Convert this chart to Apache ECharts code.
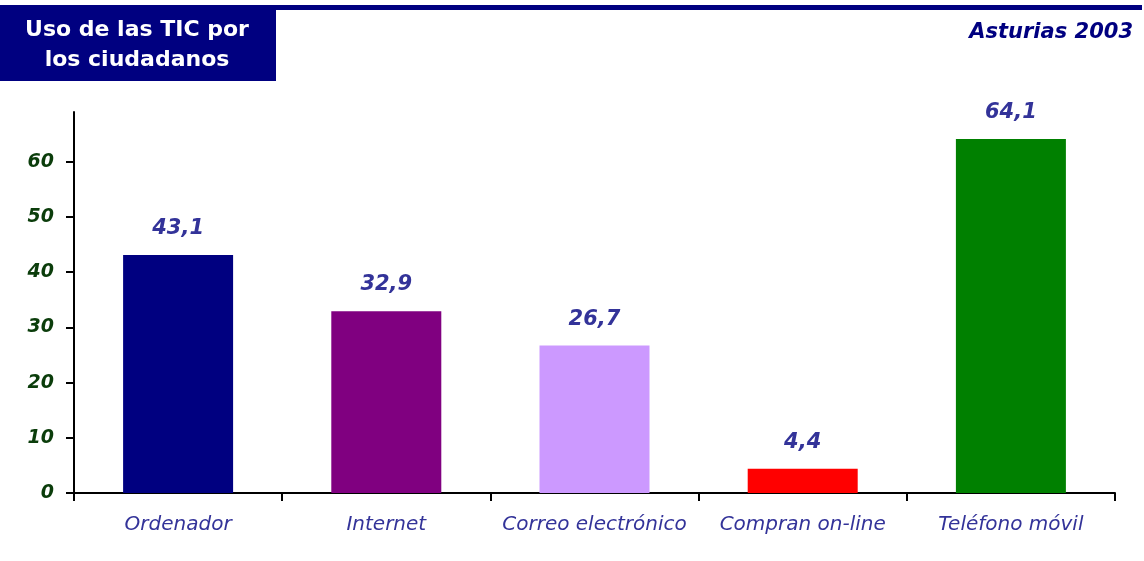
<!DOCTYPE html>
<html>
<head>
<meta charset="utf-8">
<script src="https://cdn.jsdelivr.net/npm/echarts@6/dist/echarts.min.js"></script>
<style>
html,body{margin:0;padding:0;background:#fff;}
#c{width:1144px;height:561px;}
</style>
</head>
<body>
<div id="c"></div>
<script>
var categories = ['Ordenador', 'Internet', 'Correo electrónico', 'Compran on-line', 'Teléfono móvil'];
var values = [43.1, 32.9, 26.7, 4.4, 64.1];
var barColors = ['#000080', '#800080', '#CC99FF', '#FF0000', '#008000'];
var yTicks = [0, 10, 20, 30, 40, 50, 60];
var titleLines = ['Uso de las TIC por', 'los ciudadanos'];
var subtitle = 'Asturias 2003';

var chart = echarts.init(document.getElementById('c'), null, {renderer: 'canvas'});
var option = {
  animation: false,
  backgroundColor: '#ffffff',
  title: {
    text: subtitle,
    right: 6,
    top: 17,
    textStyle: {
      color: '#000080',
      fontFamily: 'DejaVu Sans',
      fontStyle: 'italic',
      fontWeight: 'bold',
      fontSize: 21
    }
  },
  graphic: [
    {type: 'rect', shape: {x: 0, y: 5, width: 1142, height: 5}, style: {fill: '#000080'}},
    {type: 'rect', shape: {x: 0, y: 5, width: 276, height: 76}, style: {fill: '#000080'}},
    {type: 'text', x: 137, y: 15, style: {text: titleLines.join('\n'), fill: '#ffffff',
      font: 'bold 22px "DejaVu Sans"', lineHeight: 30, align: 'center', verticalAlign: 'top'}}
  ],
  grid: {left: 74, top: 112, right: 29, bottom: 68, containLabel: false},
  xAxis: {
    type: 'category',
    data: categories,
    axisLine: {lineStyle: {color: '#000000', width: 2}},
    axisTick: {show: true, length: 8, lineStyle: {color: '#000000', width: 2}, alignWithLabel: false},
    axisLabel: {
      margin: 22,
      color: '#333399',
      fontFamily: 'DejaVu Sans',
      fontStyle: 'italic',
      fontSize: 20,
      interval: 0
    }
  },
  yAxis: {
    type: 'value',
    min: 0,
    max: 69,
    interval: 10,
    splitLine: {show: false},
    axisLine: {show: true, lineStyle: {color: '#000000', width: 2}},
    axisTick: {show: true, length: 8, lineStyle: {color: '#000000', width: 2}, customValues: yTicks},
    axisLabel: {
      customValues: yTicks,
      margin: 20,
      color: '#0b3d0b',
      fontFamily: 'DejaVu Sans',
      fontStyle: 'italic',
      fontWeight: 'bold',
      fontSize: 19
    }
  },
  series: [{
    type: 'bar',
    barWidth: 110,
    data: values.map(function (v, i) { return {value: v, itemStyle: {color: barColors[i]}}; }),
    label: {
      show: true,
      position: 'top',
      distance: 16,
      color: '#333399',
      fontFamily: 'DejaVu Sans',
      fontStyle: 'italic',
      fontWeight: 'bold',
      fontSize: 21,
      formatter: function (p) { return String(p.value).replace('.', ','); }
    }
  }]
};
chart.setOption(option);
</script>
</body>
</html>
